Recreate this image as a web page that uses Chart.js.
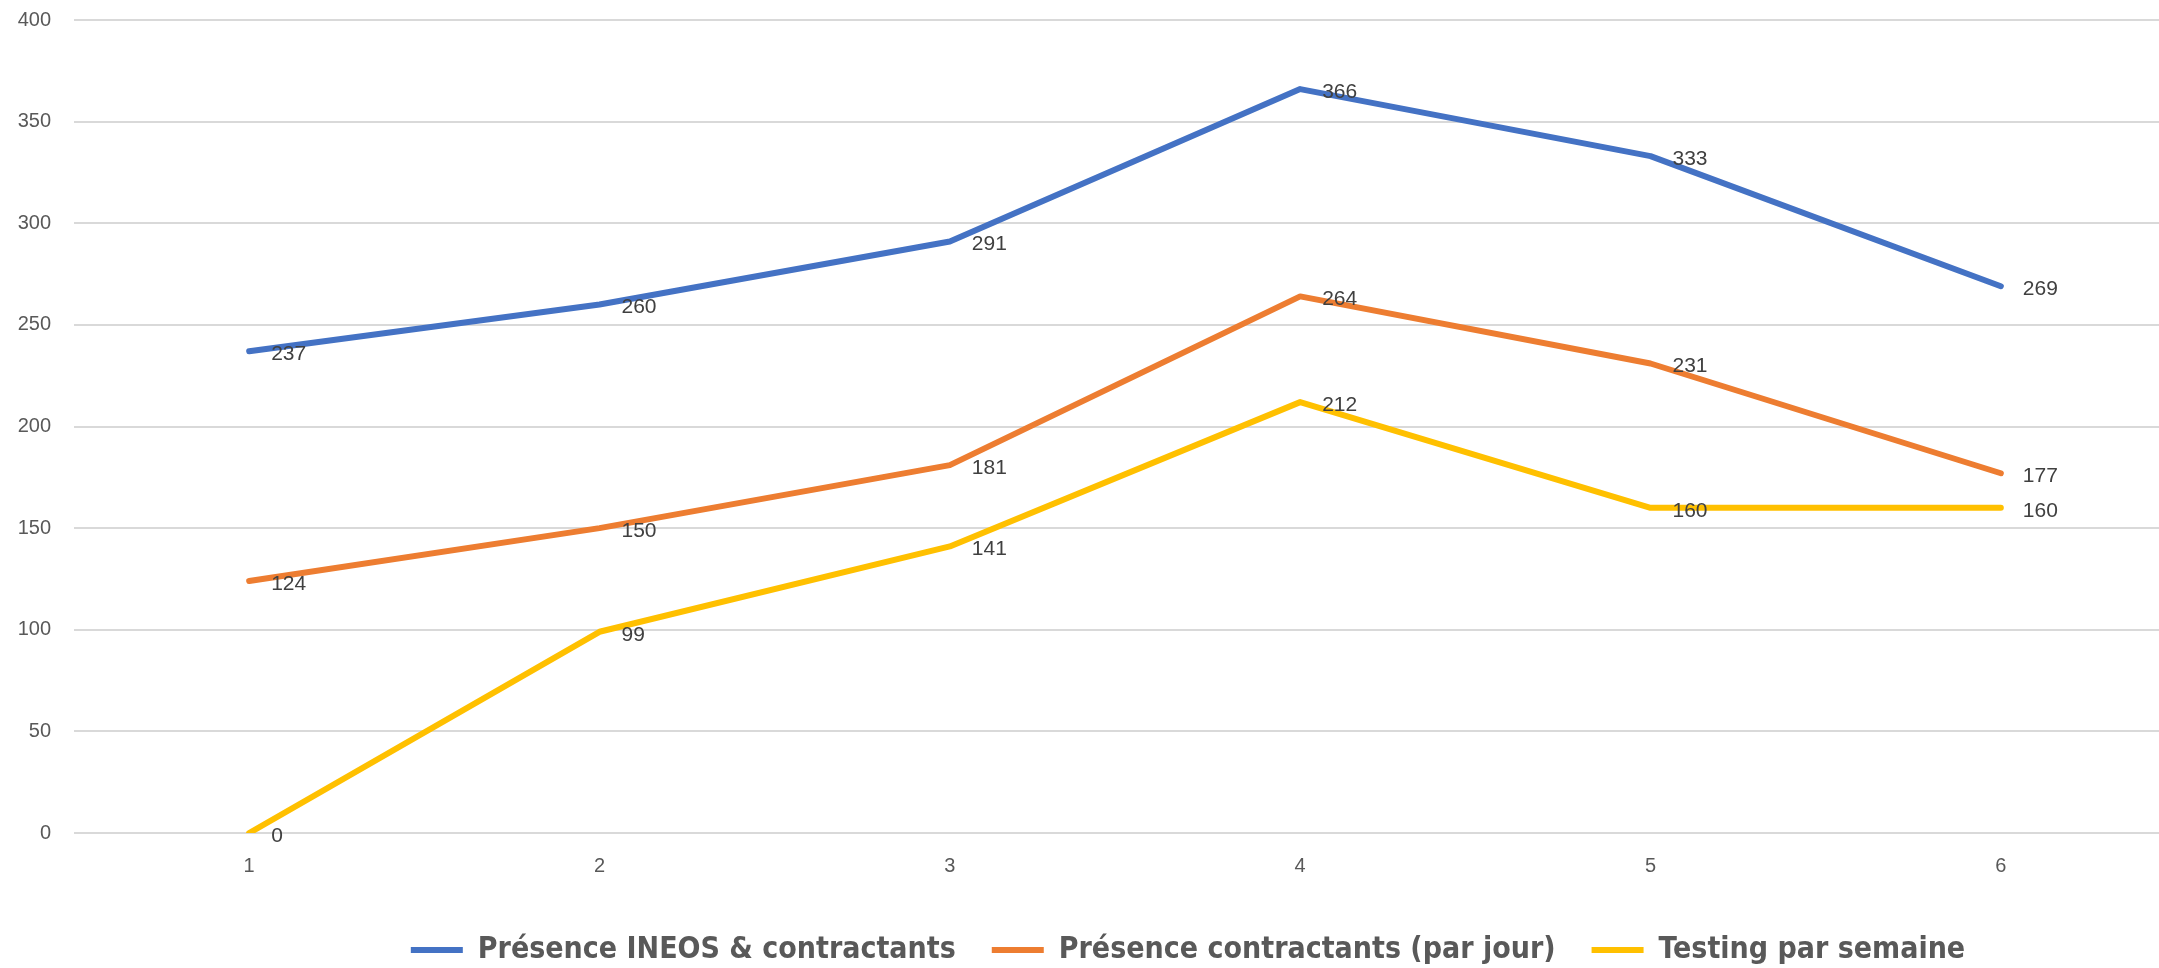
<!DOCTYPE html>
<html>
<head>
<meta charset="utf-8">
<script src="https://cdn.jsdelivr.net/npm/chart.js@4/dist/chart.umd.min.js"></script>
<style>
  html, body { margin: 0; padding: 0; background: #fff; overflow: hidden; }
  #wrap { position: relative; width: 2180px; height: 975px; }
</style>
</head>
<body>
<div id="wrap"><canvas id="lineChart"></canvas></div>
<script>
const weeks = ['1', '2', '3', '4', '5', '6'];
const presenceTotal = [237, 260, 291, 366, 333, 269];
const presenceContract = [124, 150, 181, 264, 231, 177];
const testing = [0, 99, 141, 212, 160, 160];

// values written to the right of every point, like the excel labels
const pointLabels = {
    id: 'pointLabels',
    afterDatasetsDraw(chart) {
        const ctx = chart.ctx;
        ctx.save();
        ctx.font = "21px 'Liberation Sans', Arial, sans-serif";
        ctx.fillStyle = '#404040';
        ctx.textAlign = 'left';
        ctx.textBaseline = 'middle';
        chart.data.datasets.forEach(function(ds, i) {
            chart.getDatasetMeta(i).data.forEach(function(pt, j) {
                ctx.fillText(ds.data[j], pt.x + 22, pt.y + 3);
            });
        });
        ctx.restore();
    }
};

// excel centres the legend a bit right of the canvas middle
const legendShift = {
    id: 'legendShift',
    afterLayout(chart) {
        chart.legend.left += 100;
        chart.legend.right += 100;
    }
};

Chart.defaults.font.family = "'Liberation Sans', Arial, sans-serif";

const ctx = document.getElementById('lineChart').getContext('2d');
const lineChart = new Chart(ctx, {
    type: 'line',
    plugins: [pointLabels, legendShift],
    data: {
        labels: weeks,
        datasets: [
        {
            label: 'Présence INEOS & contractants',
            data: presenceTotal,
            borderColor: '#4472C4',
            backgroundColor: '#4472C4'
        },
        {
            label: 'Présence contractants (par jour)',
            data: presenceContract,
            borderColor: '#ED7D31',
            backgroundColor: '#ED7D31'
        },
        {
            label: 'Testing par semaine',
            data: testing,
            borderColor: '#FFC000',
            backgroundColor: '#FFC000'
        }]
    },
    options: {
        responsive: true,
        maintainAspectRatio: false,
        animation: false,
        layout: {
            padding: { top: 20, right: 4, left: 0, bottom: 0 }
        },
        elements: {
            line: { borderWidth: 6, tension: 0, borderCapStyle: 'round', borderJoinStyle: 'round' },
            point: { radius: 0, hoverRadius: 0, borderWidth: 6 }
        },
        scales: {
            x: {
                offset: true,
                grid: { display: false, drawTicks: false },
                border: { display: false },
                ticks: { color: '#595959', font: { size: 20 }, padding: 21 },
                afterFit: function(scale) { scale.height = 66; }
            },
            y: {
                min: 0,
                max: 400,
                // tick marks kept only as an invisible gap between labels and grid
                grid: { color: '#D9D9D9', lineWidth: 2, tickLength: 23, tickColor: 'rgba(0,0,0,0)' },
                border: { display: false },
                ticks: { stepSize: 50, color: '#595959', font: { size: 20 }, padding: 0 },
                afterFit: function(scale) { scale.width = 74; }
            }
        },
        plugins: {
            legend: {
                position: 'bottom',
                labels: {
                    usePointStyle: true,
                    pointStyle: 'line',
                    pointStyleWidth: 52,
                    padding: 36,
                    color: '#595959',
                    font: { family: "'Liberation Sans Narrow', 'DejaVu Sans Condensed', sans-serif", size: 30, weight: 'bold' }
                }
            },
            tooltip: { enabled: false }
        }
    }
});
</script>
</body>
</html>
